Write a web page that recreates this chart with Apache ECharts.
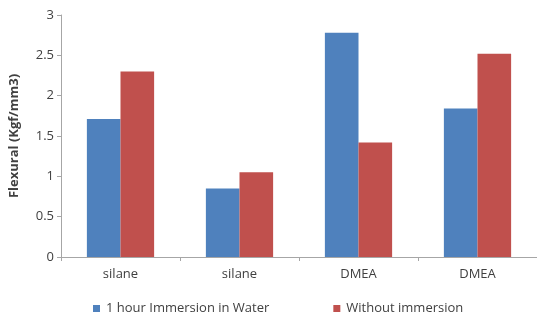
<!DOCTYPE html>
<html>
<head>
<meta charset="utf-8">
<script src="https://cdn.jsdelivr.net/npm/echarts@6/dist/echarts.min.js"></script>
<style>
html,body{margin:0;padding:0;background:#fff;}
#chart{width:537px;height:324px;}
</style>
</head>
<body>
<div id="chart"></div>
<script>
// Flexural strength by coupling agent, with and without water immersion
const categories = ['silane', 'silane', 'DMEA', 'DMEA'];
const immersedValues = [1.71, 0.85, 2.78, 1.84];
const dryValues = [2.30, 1.05, 1.42, 2.52];
const seriesNames = ['1 hour Immersion in Water', 'Without immersion'];
const yTicks = { min: 0, max: 3, interval: 0.5 };

const font = 'Open Sans, Liberation Sans, sans-serif';
const textColor = '#404040';
const axisColor = '#a6a6a6';

const chart = echarts.init(document.getElementById('chart'));
chart.setOption({
  animation: false,
  textStyle: { fontFamily: font },
  grid: { left: 56, right: -1, top: 15, bottom: 67, containLabel: false },
  legend: {
    bottom: 4,
    left: 88,
    itemWidth: 7,
    itemHeight: 7,
    itemGap: 64,
    icon: 'rect',
    textStyle: { fontSize: 13, color: textColor, fontFamily: font, padding: [0, 0, 0, 1] }
  },
  xAxis: {
    type: 'category',
    data: categories,
    axisLine: { lineStyle: { color: axisColor } },
    axisTick: { show: true, length: 4, lineStyle: { color: axisColor } },
    axisLabel: { fontSize: 13, color: textColor, margin: 11 }
  },
  yAxis: {
    type: 'value',
    min: yTicks.min,
    max: yTicks.max,
    interval: yTicks.interval,
    name: 'Flexural (Kgf/mm3)',
    nameLocation: 'middle',
    nameGap: 40,
    nameTextStyle: { fontSize: 13, fontWeight: 'bold', color: textColor, fontFamily: font },
    axisLine: { show: true, lineStyle: { color: axisColor } },
    axisTick: { show: true, length: 4, lineStyle: { color: axisColor } },
    splitLine: { show: false },
    axisLabel: { fontSize: 13, color: textColor, margin: 7 }
  },
  series: [
    {
      name: seriesNames[0],
      type: 'bar',
      data: immersedValues,
      itemStyle: { color: '#4f81bd' },
      barGap: '0%',
      barCategoryGap: '43.5%'
    },
    {
      name: seriesNames[1],
      type: 'bar',
      data: dryValues,
      itemStyle: { color: '#c0504d' },
      barGap: '0%',
      barCategoryGap: '43.5%'
    }
  ]
});
</script>
</body>
</html>
